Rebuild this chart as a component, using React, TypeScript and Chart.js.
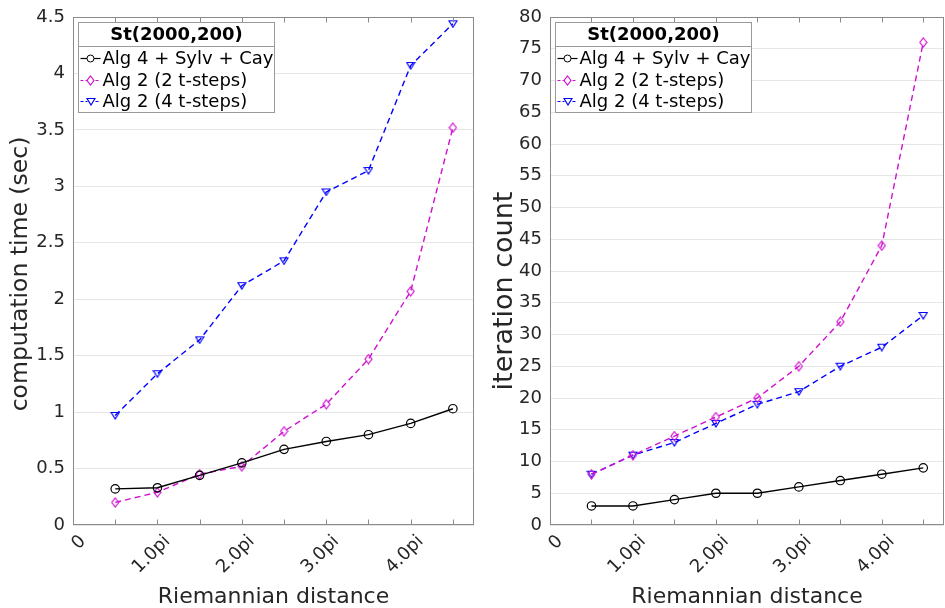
import React, { useEffect, useRef } from 'react';
import { Chart, registerables } from 'chart.js';

Chart.register(...registerables);

// ---- data (x in multiples of pi) ----
const distances = [0.5, 1.0, 1.5, 2.0, 2.5, 3.0, 3.5, 4.0, 4.5];
const seriesNames = ['Alg 4 + Sylv + Cay', 'Alg 2 (2 t-steps)', 'Alg 2 (4 t-steps)'];
const legendTitle = 'St(2000,200)';
const timeAlg4 = [0.32, 0.33, 0.44, 0.55, 0.67, 0.74, 0.8, 0.9, 1.03];
const timeAlg2two = [0.2, 0.29, 0.45, 0.52, 0.83, 1.07, 1.47, 2.07, 3.52];
const timeAlg2four = [0.97, 1.34, 1.64, 2.12, 2.34, 2.95, 3.14, 4.07, 4.44];
const iterAlg4 = [3, 3, 4, 5, 5, 6, 7, 8, 9];
const iterAlg2two = [8, 11, 14, 17, 20, 25, 32, 44, 76];
const iterAlg2four = [8, 11, 13, 16, 19, 21, 25, 28, 33];
const xTickLabels = ['0', '1.0pi', '2.0pi', '3.0pi', '4.0pi'];
const xLabel = 'Riemannian distance';
const yLabelTime = 'computation time (sec)';
const yLabelIter = 'iteration count';

const FONT = "'DejaVu Sans', sans-serif";
const TEXT = '#262626';
const AXIS = '#8a8a8a';
const GRID = '#e6e6e6';
const BLACK = '#000000';
const MAGENTA = '#d010d0';
const BLUE = '#0000ff';

function makeDiamond(color: string) {
  const c = document.createElement('canvas');
  c.width = 9; c.height = 11;
  const g = c.getContext('2d')!;
  g.strokeStyle = color; g.lineWidth = 1.2;
  g.beginPath();
  g.moveTo(4.5, 1); g.lineTo(8, 5.5); g.lineTo(4.5, 10); g.lineTo(1, 5.5); g.closePath();
  g.stroke();
  return c;
}
function makeTriDown(color: string) {
  const c = document.createElement('canvas');
  c.width = 10; c.height = 9;
  const g = c.getContext('2d')!;
  g.strokeStyle = color; g.lineWidth = 1.2;
  g.beginPath();
  g.moveTo(1, 1.5); g.lineTo(9, 1.5); g.lineTo(5, 8); g.closePath();
  g.stroke();
  return c;
}

function toPts(ys: number[]) {
  return distances.map((x, i) => ({ x, y: ys[i] }));
}

type Cfg = {
  series: number[][];
  yMax: number;
  yStep: number;
  yLabel: string;
  yLabelSize: number;
  yLabelX: number;
  yLabelY: number;
  axisWidth: number;
  rightPad: number;
  width: number;
};

function PlotPanel({ cfg }: { cfg: Cfg }) {
  const ref = useRef<HTMLCanvasElement | null>(null);
  useEffect(() => {
    const canvas = ref.current!;
    const diamond = makeDiamond(MAGENTA);
    const tri = makeTriDown(BLUE);
    const styles: any[] = ['circle', diamond, tri];
    const colors = [BLACK, MAGENTA, BLUE];
    const dashes = [[], [6, 4], [6, 4]];
    const widths = [1.4, 1.4, 1.4];

    const framePlugin = {
      id: 'frame',
      afterDraw(chart: any) {
        const { ctx, chartArea: a } = chart;
        const L = Math.round(a.left) + 0.5;
        const R = Math.round(a.right) - 0.5;
        const T = Math.round(a.top) + 0.5;
        const B = Math.round(a.bottom) - 0.5;
        ctx.save();
        ctx.strokeStyle = AXIS;
        ctx.lineWidth = 1;
        ctx.setLineDash([]);
        ctx.strokeRect(L, T, R - L, B - T);
        const xs = chart.scales.x;
        ctx.beginPath();
        for (let v = 0.5; v <= 4.5 + 1e-9; v += 0.5) {
          const px = Math.round(xs.getPixelForValue(v)) + 0.5;
          ctx.moveTo(px, B); ctx.lineTo(px, B - 5);
          ctx.moveTo(px, T); ctx.lineTo(px, T + 5);
        }
        ctx.stroke();

        // y axis title
        ctx.save();
        ctx.translate(cfg.yLabelX, cfg.yLabelY);
        ctx.rotate(-Math.PI / 2);
        ctx.fillStyle = TEXT;
        ctx.textAlign = 'center';
        ctx.textBaseline = 'middle';
        ctx.font = `${cfg.yLabelSize}px ${FONT}`;
        ctx.fillText(cfg.yLabel, 0, 0);
        ctx.restore();

        // legend
        const x0 = L + 5, y0 = T + 5, w = 196, h = 90;
        ctx.fillStyle = '#ffffff';
        ctx.fillRect(x0, y0, w, h);
        ctx.strokeStyle = '#9a9a9a';
        ctx.strokeRect(x0, y0, w, h);
        ctx.beginPath();
        ctx.moveTo(x0, y0 + 24); ctx.lineTo(x0 + w, y0 + 24);
        ctx.stroke();
        ctx.fillStyle = '#000';
        ctx.textBaseline = 'middle';
        ctx.textAlign = 'center';
        ctx.font = `bold 18px ${FONT}`;
        ctx.fillText(legendTitle, x0 + w / 2, y0 + 13);
        ctx.textAlign = 'left';
        ctx.font = `18px ${FONT}`;
        const rowsY = [36, 58, 79];
        for (let i = 0; i < 3; i++) {
          const cy = y0 + rowsY[i];
          ctx.strokeStyle = colors[i];
          ctx.lineWidth = 1.2;
          ctx.setLineDash(i === 0 ? [] : [3, 2]);
          ctx.beginPath();
          ctx.moveTo(x0 + 2, cy); ctx.lineTo(x0 + 22, cy);
          ctx.stroke();
          ctx.setLineDash([]);
          const mx = x0 + 12;
          if (i === 0) {
            ctx.fillStyle = '#fff';
            ctx.lineWidth = 1;
            ctx.beginPath(); ctx.arc(mx, cy, 3.5, 0, Math.PI * 2); ctx.fill(); ctx.stroke();
          } else {
            const im = styles[i];
            ctx.fillStyle = '#fff';
            ctx.fillRect(mx - 3, cy - 3, 6, 6);
            ctx.drawImage(im, Math.round(mx - im.width / 2), Math.round(cy - im.height / 2));
          }
          ctx.fillStyle = '#000';
          ctx.fillText(seriesNames[i], x0 + 24, cy + 1);
        }
        ctx.restore();
      },
    };

    const chart = new Chart(canvas, {
      type: 'line',
      data: {
        datasets: cfg.series.map((s, i) => ({
          label: seriesNames[i],
          data: toPts(s),
          borderColor: colors[i],
          backgroundColor: 'rgba(0,0,0,0)',
          borderWidth: widths[i],
          borderDash: dashes[i],
          pointStyle: styles[i],
          pointRadius: 4.2,
          pointBorderWidth: 1.2,
          pointBorderColor: colors[i],
          pointBackgroundColor: 'rgba(0,0,0,0)',
          fill: false,
          tension: 0,
        })),
      },
      options: {
        responsive: false,
        animation: false,
        events: [],
        layout: { autoPadding: false, padding: { top: 17, right: cfg.rightPad, left: 0, bottom: 0 } },
        plugins: { legend: { display: false }, tooltip: { enabled: false } },
        scales: {
          x: {
            type: 'linear',
            min: 0,
            max: 4.75,
            grid: { display: false, drawTicks: false },
            border: { display: false },
            ticks: {
              stepSize: 0.5,
              autoSkip: false,
              minRotation: 45,
              maxRotation: 45,
              padding: 6,
              labelOffset: 10,
              color: TEXT,
              font: { family: FONT, size: 18 },
              callback: (v: any) => {
                const n = Number(v);
                if (Math.abs(n - Math.round(n)) < 1e-9 && n <= 4) return xTickLabels[Math.round(n)];
                return '';
              },
            },
            title: {
              display: true,
              text: xLabel,
              color: TEXT,
              font: { family: FONT, size: 22, lineHeight: 1 },
              padding: { top: 0, bottom: 0 },
            },
            afterFit: (s: any) => { s.height = 83; s.paddingLeft = 0; s.paddingRight = 0; },
          },
          y: {
            type: 'linear',
            min: 0,
            max: cfg.yMax,
            grid: { color: GRID, drawTicks: false, lineWidth: 1 },
            border: { display: false },
            ticks: {
              stepSize: cfg.yStep,
              autoSkip: false,
              padding: 8,
              color: TEXT,
              font: { family: FONT, size: 18 },
              callback: (v: any) => String(Math.round(Number(v) * 100) / 100),
            },
            title: { display: false },
            afterFit: (s: any) => { s.width = cfg.axisWidth; s.paddingTop = 0; s.paddingBottom = 0; },
          },
        },
      },
      plugins: [framePlugin],
    } as any);
    return () => chart.destroy();
  }, [cfg]);
  return <canvas ref={ref} width={cfg.width} height={608} style={{ display: 'block', width: cfg.width, height: 608 }} />;
}

const leftCfg: Cfg = {
  series: [timeAlg4, timeAlg2two, timeAlg2four],
  yMax: 4.5, yStep: 0.5, yLabel: yLabelTime, yLabelSize: 23.5, yLabelX: 21, yLabelY: 274,
  axisWidth: 73, rightPad: 6, width: 480,
};
const rightCfg: Cfg = {
  series: [iterAlg4, iterAlg2two, iterAlg2four],
  yMax: 80, yStep: 5, yLabel: yLabelIter, yLabelSize: 27, yLabelX: 25, yLabelY: 291,
  axisWidth: 70, rightPad: 1, width: 465,
};

export default function App() {
  useEffect(() => { document.body.style.margin = '0'; document.body.style.background = '#fff'; }, []);
  return (
    <div style={{ position: 'absolute', left: 0, top: 0, width: 945, height: 608, display: 'flex', background: '#fff' }}>
      <PlotPanel cfg={leftCfg} />
      <PlotPanel cfg={rightCfg} />
    </div>
  );
}
